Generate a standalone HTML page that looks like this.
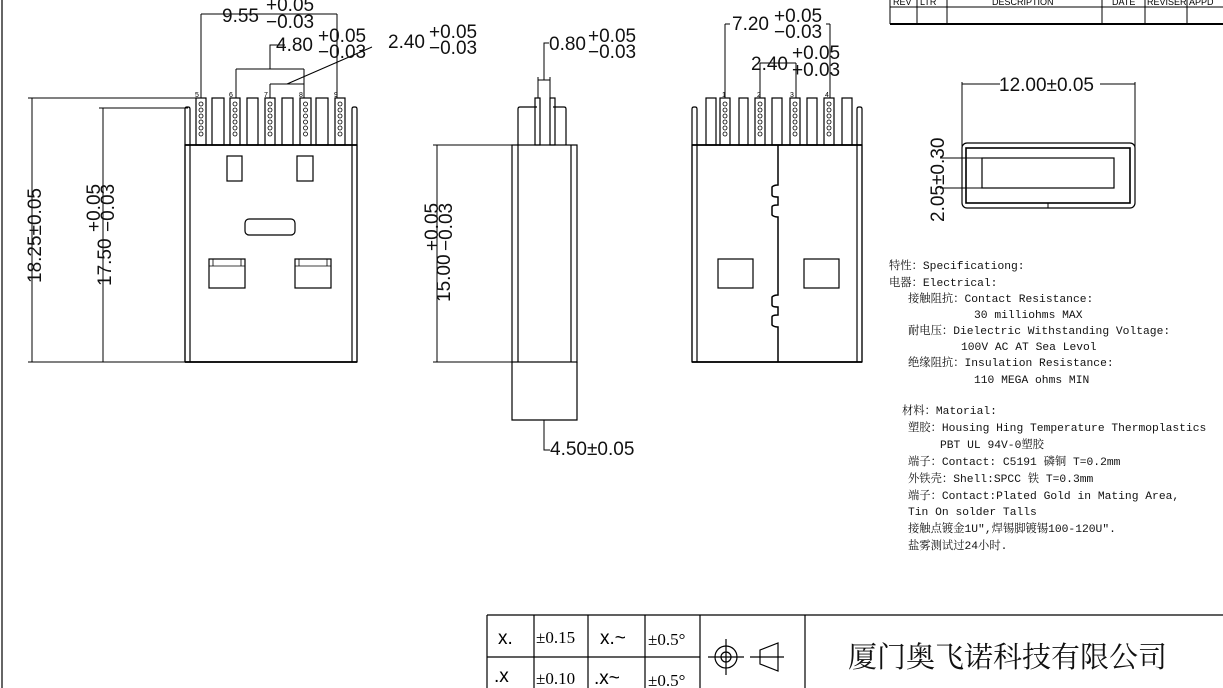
<!DOCTYPE html>
<html><head><meta charset="utf-8"><style>
html,body{margin:0;padding:0;background:#fff;width:1223px;height:688px;overflow:hidden}
svg{display:block}
.d{font-family:"Liberation Sans",sans-serif;font-size:19px;fill:#111}
.s{font-family:"Liberation Mono","Noto Serif CJK SC",monospace;font-size:11.3px;fill:#111}
.n{font-family:"Liberation Sans",sans-serif;font-size:7px;fill:#000}
</style></head><body>
<svg width="1223" height="688" viewBox="0 0 1223 688" xmlns="http://www.w3.org/2000/svg">
<defs>
<g id="c" fill="none" stroke="#000" stroke-width="0.8"><circle cx="0" cy="104" r="2"/><circle cx="0" cy="110" r="2"/><circle cx="0" cy="116" r="2"/><circle cx="0" cy="122" r="2"/><circle cx="0" cy="128" r="2"/><circle cx="0" cy="134" r="2"/></g>
</defs>
<g fill="none" stroke="#000" stroke-width="1.2">
<line x1="2" y1="0" x2="2" y2="688"/>
<!-- LEFT VIEW -->
<rect x="185" y="145" width="172" height="217"/>
<path d="M185 362V109q0-2 2-2h1q2 0 2 2V362M352 362V109q0-2 2-2h1q2 0 2 2V362"/>
<line x1="185" y1="145" x2="357" y2="145" stroke-width="1.8"/>
<line x1="185" y1="362" x2="357" y2="362" stroke-width="1.8"/>
<rect x="196" y="98" width="10" height="47"/><rect x="212" y="98" width="12" height="47"/>
<rect x="230" y="98" width="10" height="47"/><rect x="247" y="98" width="11" height="47"/>
<rect x="265" y="98" width="10" height="47"/><rect x="282" y="98" width="11" height="47"/>
<rect x="300" y="98" width="11" height="47"/><rect x="316" y="98" width="12" height="47"/>
<rect x="335" y="98" width="10" height="47"/>
<rect x="227" y="156" width="15" height="25"/><rect x="297" y="156" width="16" height="25"/>
<rect x="245" y="219" width="50" height="16" rx="4"/>
<rect x="209" y="259" width="36" height="29"/><rect x="295" y="259" width="36" height="29"/>
<path d="M209 266h36M213 259v7M241 259v7M295 266h36M299 259v7M327 259v7" stroke-width="0.8"/>
<path d="M32 98V362M28 98H196M28 362H185M103 108V362M99 108H188M99 362H185" stroke-width="1"/>
<path d="M201 14H337M201 14V98M337 14V98M236 69H304M236 69V98M304 69V98M270 69V45H285M270 84H304M270 84V98M287 84L372 47" stroke-width="1"/>
<!-- MIDDLE VIEW -->
<rect x="512" y="145" width="65" height="217"/>
<path d="M518 145V362M571 145V362M512 362V420H577V362" />
<path d="M537 107H520q-2 0-2 2V145M553 107H564q2 0 2 2V145"/>
<rect x="535" y="98" width="5" height="47"/><rect x="550" y="98" width="5" height="47"/>
<path d="M538 80H550M538 77V98M550 77V98M544 80V43H549" stroke-width="1"/>
<path d="M437 145V362M433 145H512M433 362H512M512 420H577M544 420V450H550" stroke-width="1"/>
<!-- RIGHT VIEW -->
<rect x="692" y="145" width="170" height="217"/>
<path d="M692 362V109q0-2 2-2h1q2 0 2 2V362M857 362V109q0-2 2-2h1q2 0 2 2V362"/>
<line x1="692" y1="145" x2="862" y2="145" stroke-width="1.8"/>
<line x1="692" y1="362" x2="862" y2="362" stroke-width="1.8"/>
<path d="M778 145V185q-4 0-6 2v8q0 2 6 2V205q-6 0-6 2v8q2 2 6 2V295q-4 0-6 2v8q0 2 6 2V315q-6 0-6 2v8q2 2 6 2V362" stroke-width="1.5"/>
<rect x="706" y="98" width="10" height="47"/><rect x="720" y="98" width="10" height="47"/>
<rect x="739" y="98" width="9" height="47"/><rect x="755" y="98" width="10" height="47"/>
<rect x="772" y="98" width="10" height="47"/><rect x="790" y="98" width="10" height="47"/>
<rect x="807" y="98" width="10" height="47"/><rect x="824" y="98" width="10" height="47"/>
<rect x="842" y="98" width="10" height="47"/>
<rect x="718" y="259" width="35" height="29"/><rect x="804" y="259" width="35" height="29"/>
<path d="M725 24V98M830 24V98M725 24H730M826 24H830M760 63V98M796 63V98M760 63H796" stroke-width="1"/>
<!-- REV TABLE -->
<path d="M890 0V24M917 0V24M947 0V24M1102 0V24M1145 0V24M1187 0V24M890 7H1223" stroke-width="1"/>
<line x1="890" y1="24" x2="1223" y2="24" stroke-width="2"/>
<!-- END VIEW -->
<rect x="962" y="143" width="173" height="65" rx="5"/>
<rect x="966" y="148" width="164" height="55" stroke-width="1.6"/>
<rect x="982" y="158" width="132" height="30"/>
<path d="M1048 203V208M962 82V150M1135 82V150M962 84H1000M1100 84H1135M940 158H982M940 188H982" stroke-width="1"/>
<!-- TITLE BLOCK -->
<path d="M487 615H1223M487 615V688M487 657H700M534 615V688M588 615V688M645 615V688M700 615V688M805 615V688" stroke-width="1.2"/>
<circle cx="726" cy="657" r="11"/><circle cx="726" cy="657" r="5"/>
<path d="M708 657H744M726 639V675M750 657H784M760 650L778 643V671L760 664Z"/>
</g>
<use href="#c" x="201"/><use href="#c" x="235"/><use href="#c" x="270"/><use href="#c" x="305.5"/><use href="#c" x="340"/>
<use href="#c" x="725"/><use href="#c" x="760"/><use href="#c" x="795"/><use href="#c" x="829"/>
<text class="n" x="195" y="97">5</text><text class="n" x="229" y="97">6</text><text class="n" x="264" y="97">7</text><text class="n" x="299" y="97">8</text><text class="n" x="334" y="97">9</text>
<text class="n" x="722" y="97">1</text><text class="n" x="757" y="97">2</text><text class="n" x="790" y="97">3</text><text class="n" x="825" y="97">4</text>
<text class="d" x="222" y="22">9.55</text><text class="d" x="266" y="11" font-size="18">+0.05</text><text class="d" x="266" y="28" font-size="18">−0.03</text>
<text class="d" x="276" y="51">4.80</text><text class="d" x="318" y="42" font-size="18">+0.05</text><text class="d" x="318" y="58" font-size="18">−0.03</text>
<text class="d" x="388" y="48">2.40</text><text class="d" x="429" y="38" font-size="18">+0.05</text><text class="d" x="429" y="54" font-size="18">−0.03</text>
<text class="d" transform="translate(41,283) rotate(-90)">18.25±0.05</text>
<text class="d" transform="translate(111,286) rotate(-90)">17.50</text>
<text class="d" transform="translate(100,232) rotate(-90)" font-size="18">+0.05</text>
<text class="d" transform="translate(114,232) rotate(-90)" font-size="18">−0.03</text>
<text class="d" x="549" y="50">0.80</text><text class="d" x="588" y="42" font-size="18">+0.05</text><text class="d" x="588" y="58" font-size="18">−0.03</text>
<text class="d" transform="translate(450,302) rotate(-90)">15.00</text>
<text class="d" transform="translate(438,251) rotate(-90)" font-size="18">+0.05</text>
<text class="d" transform="translate(452,251) rotate(-90)" font-size="18">−0.03</text>
<text class="d" x="550" y="455">4.50±0.05</text>
<text class="d" x="732" y="30">7.20</text><text class="d" x="774" y="22" font-size="18">+0.05</text><text class="d" x="774" y="38" font-size="18">−0.03</text>
<text class="d" x="751" y="70">2.40</text><text class="d" x="792" y="59" font-size="18">+0.05</text><text class="d" x="792" y="76" font-size="18">+0.03</text>
<text class="d" x="999" y="91">12.00±0.05</text>
<text class="d" transform="translate(944,222) rotate(-90)">2.05±0.30</text>
<g font-family="Liberation Sans,sans-serif" font-size="9" fill="#000">
<text x="893" y="5">REV</text><text x="920" y="5">LTR</text><text x="992" y="5">DESCRIPTION</text><text x="1112" y="5">DATE</text><text x="1147" y="5">REVISER</text><text x="1189" y="5">APPD</text>
</g>
<text class="s" x="889" y="269">特性：Specificationg:</text>
<text class="s" x="889" y="286">电器：Electrical:</text>
<text class="s" x="908" y="302">接触阻抗：Contact Resistance:</text>
<text class="s" x="974" y="318">30 milliohms MAX</text>
<text class="s" x="908" y="334">耐电压：Dielectric Withstanding Voltage:</text>
<text class="s" x="961" y="350">100V AC AT Sea Levol</text>
<text class="s" x="908" y="366">绝缘阻抗：Insulation Resistance:</text>
<text class="s" x="974" y="383">110 MEGA ohms MIN</text>
<text class="s" x="902" y="414">材料：Matorial:</text>
<text class="s" x="908" y="431">塑胶：Housing Hing Temperature Thermoplastics</text>
<text class="s" x="940" y="448">PBT UL 94V-0塑胶</text>
<text class="s" x="908" y="465">端子：Contact: C5191 磷铜 T=0.2mm</text>
<text class="s" x="908" y="482">外铁壳：Shell:SPCC 铁 T=0.3mm</text>
<text class="s" x="908" y="499">端子：Contact:Plated Gold in Mating Area,</text>
<text class="s" x="908" y="515">Tin On solder Talls</text>
<text class="s" x="908" y="532">接触点镀金1U″,焊锡脚镀锡100-120U″.</text>
<text class="s" x="908" y="549">盐雾测试过24小时.</text>
<g font-family="Liberation Sans,sans-serif" font-size="19" fill="#000">
<text x="498" y="644">x.</text><text x="494" y="682">.x</text>
<text x="600" y="644">x.~</text><text x="594" y="684">.x~</text>
</g>
<g font-family="Liberation Serif,'Noto Serif CJK SC',serif" font-size="17" fill="#000">
<text x="536" y="643">±0.15</text><text x="536" y="684">±0.10</text>
<text x="648" y="645">±0.5°</text><text x="648" y="686">±0.5°</text>
</g>
<text x="848" y="667" font-family="'Noto Serif CJK SC',serif" font-size="29" fill="#111">厦门奥飞诺科技有限公司</text>
</svg>
</body></html>
